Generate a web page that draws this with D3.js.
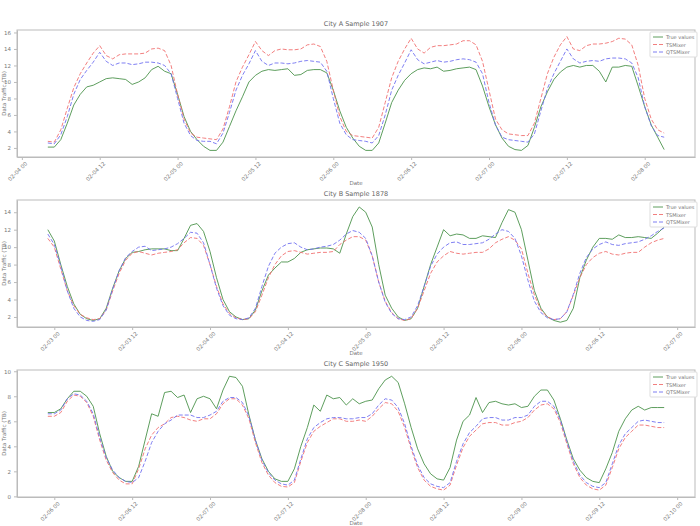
<!DOCTYPE html>
<html>
<head>
<meta charset="utf-8">
<script src="https://cdn.jsdelivr.net/npm/d3@7"></script>
<style>
  body { margin: 0; background: #fff; }
  text { font-family: "DejaVu Sans", sans-serif; }
</style>
</head>
<body>
<svg id="chart" width="700" height="526"></svg>
<script>
// ---- data (hourly, 96 points per panel) ----
const titles = ["City A Sample 1907", "City B Sample 1878", "City C Sample 1950"];
const startTimes = ["2024-02-04T04:00", "2024-02-02T23:00", "2024-02-05T23:00"];
const tickStarts = ["2024-02-04T00:00", "2024-02-03T00:00", "2024-02-06T00:00"];
const yDomains = [[0.9, 16.3], [0.85, 15.4], [-0.05, 10.1]];
const yTicks = [[2, 4, 6, 8, 10, 12, 14, 16], [2, 4, 6, 8, 10, 12, 14], [0, 2, 4, 6, 8, 10]];

const trueA = [2.1,2.1,3.0,5.0,7.2,8.5,9.4,9.6,10.0,10.4,10.5,10.4,10.3,9.7,10.0,10.5,11.5,11.9,11.3,11.0,
  8.5,5.8,4.0,3.0,2.2,1.7,1.7,2.7,4.6,6.5,8.2,10.0,10.8,11.3,11.5,11.4,11.5,11.6,10.8,10.9,11.4,11.5,11.5,11.1,
  9.0,6.5,4.5,3.2,2.2,1.7,1.7,2.6,5.0,7.5,9.0,10.2,11.0,11.5,11.7,11.6,11.8,11.3,11.4,11.6,11.7,11.8,11.5,9.5,
  7.0,4.8,3.2,2.2,1.8,1.7,2.3,4.5,7.0,8.8,10.3,11.2,11.8,12.0,11.8,12.0,12.0,11.3,10.0,11.8,11.8,12.0,11.9,9.5,
  7.0,4.8,3.3,1.8];
const tsA = [2.8,2.7,4.2,6.8,9.3,11.0,12.3,13.5,14.4,13.2,12.8,13.3,13.4,13.4,13.4,13.5,14.0,14.1,13.8,12.0,
  8.5,5.5,3.8,3.3,3.2,3.1,3.0,4.3,7.0,10.0,11.8,13.3,14.9,13.8,13.2,13.8,14.0,13.9,13.9,14.0,14.5,14.6,14.3,12.5,
  9.0,5.8,4.0,3.5,3.4,3.3,3.2,4.5,7.5,10.5,12.5,14.0,15.3,14.0,13.5,14.2,14.4,14.4,14.5,14.6,15.0,15.0,14.5,12.5,
  9.0,5.5,4.2,3.7,3.6,3.5,3.5,5.0,8.0,11.0,13.0,14.5,15.5,14.0,13.8,14.4,14.6,14.6,14.7,14.9,15.3,15.2,14.5,12.0,
  8.0,5.5,4.2,3.8];
const qtA = [2.6,2.5,3.6,5.8,8.5,10.3,11.4,12.4,13.6,12.5,12.0,12.3,12.3,12.1,12.2,12.4,12.4,12.3,12.0,11.0,
  8.0,5.0,3.5,2.9,2.8,2.8,2.5,3.8,6.3,9.0,10.8,12.2,13.8,12.5,12.0,12.3,12.3,12.2,12.3,12.5,12.6,12.5,12.4,11.3,
  8.0,5.0,3.6,3.0,2.9,2.8,2.6,3.5,6.0,9.0,10.8,12.3,13.9,12.7,12.2,12.4,12.6,12.4,12.5,12.7,12.8,12.7,12.4,11.0,
  7.5,4.8,3.3,3.0,2.9,2.8,2.7,3.7,6.5,9.2,11.0,12.5,14.0,12.8,12.3,12.5,12.6,12.5,12.8,12.9,12.9,12.8,12.3,10.5,
  7.0,4.7,3.5,3.3];

const trueB = [12.0,
  10.7,8.0,5.5,3.5,2.3,1.8,1.6,1.8,3.0,5.3,7.3,8.7,9.4,9.5,9.7,9.8,9.8,9.8,9.6,9.6,11.0,12.5,12.7,11.8,
  9.5,6.5,4.0,2.6,2.0,1.7,1.8,2.8,5.0,6.8,7.6,8.3,8.3,8.7,9.4,9.7,9.8,9.9,9.9,9.8,9.3,11.5,13.5,14.6,
  14.0,12.3,8.0,4.5,3.0,2.0,1.6,1.8,3.0,5.5,8.0,10.0,12.0,11.3,11.5,11.4,11.0,11.0,11.3,11.2,11.1,12.8,14.3,14.0,
  12.0,8.5,5.0,3.0,2.0,1.6,1.4,1.6,3.0,6.5,8.5,10.0,11.0,11.0,10.9,11.4,11.1,11.1,11.2,11.1,11.0,11.6,12.3];
const tsB = [11.0,
  10.0,7.5,5.0,3.3,2.3,1.9,1.7,1.8,2.8,5.0,7.0,8.5,9.3,9.5,9.3,9.1,9.3,9.4,9.5,9.7,10.5,11.1,11.0,10.2,
  8.0,5.5,3.5,2.4,1.9,1.7,1.8,2.6,4.5,6.5,8.0,9.0,9.5,9.6,9.4,9.2,9.3,9.4,9.4,9.5,10.3,10.8,11.2,11.2,
  10.8,9.0,6.0,3.8,2.5,1.8,1.6,1.8,3.0,5.0,7.0,8.3,9.0,9.5,9.3,9.2,9.3,9.4,9.4,9.8,10.5,10.9,11.2,10.8,
  9.8,7.0,4.5,2.8,2.0,1.7,1.8,2.6,4.5,6.5,8.0,8.8,9.3,9.5,9.2,9.1,9.3,9.4,9.4,10.0,10.5,10.8,11.0];
const qtB = [11.5,
  10.3,7.8,5.0,3.0,2.0,1.6,1.5,1.7,2.8,5.2,7.3,8.8,9.5,10.0,10.1,9.6,9.7,9.8,10.0,10.4,11.0,11.7,11.6,10.5,
  8.0,5.3,3.3,2.2,1.8,1.7,1.9,3.0,5.5,7.8,9.3,10.0,10.4,10.5,10.0,9.7,9.8,10.0,10.1,10.3,10.8,11.5,11.9,11.7,
  11.0,9.0,6.0,3.7,2.4,1.8,1.7,2.0,3.3,5.5,7.8,9.2,10.0,10.5,10.6,10.3,10.3,10.4,10.5,10.9,11.5,12.0,11.8,11.0,
  9.0,6.2,3.8,2.5,1.9,1.7,1.8,2.6,4.6,7.0,8.8,9.8,10.3,10.6,10.3,10.2,10.4,10.5,10.6,10.9,11.3,11.8,12.2];

const trueC = [6.7,
  6.7,7.0,7.8,8.4,8.4,8.0,7.2,5.0,3.2,2.0,1.5,1.2,1.2,2.4,4.5,6.6,6.4,8.3,8.4,7.9,8.1,6.7,7.8,8.0,
  7.8,7.0,8.5,9.6,9.5,8.8,6.5,4.5,3.0,2.0,1.4,1.2,1.2,2.2,4.0,5.5,7.3,6.8,8.1,7.8,7.9,7.3,7.8,7.4,
  7.6,7.7,8.6,9.3,9.6,9.1,7.4,5.5,3.8,2.6,1.8,1.4,1.3,2.3,4.5,6.0,6.5,7.9,6.7,7.5,7.6,7.4,7.3,7.4,
  7.1,7.2,8.0,8.5,8.5,7.7,6.2,4.5,3.0,2.1,1.5,1.2,1.1,2.2,3.5,5.2,6.2,6.9,7.2,6.9,7.1,7.1,7.1];
const tsC = [6.4,
  6.4,6.7,7.6,8.1,8.0,7.5,6.4,4.5,2.9,1.9,1.3,1.0,1.0,2.2,3.8,4.9,5.5,5.8,6.3,6.4,6.3,6.1,6.0,6.2,
  6.2,6.6,7.4,7.8,7.8,7.3,6.2,4.3,2.7,1.7,1.1,0.8,0.75,1.1,2.8,4.3,5.2,5.6,5.9,6.2,6.2,6.0,6.0,6.1,
  6.0,6.4,7.0,7.5,7.4,6.8,5.5,3.8,2.3,1.3,0.8,0.6,0.5,0.9,2.5,3.9,4.8,5.3,5.8,5.9,5.9,5.7,5.7,5.9,
  6.0,6.3,6.9,7.3,7.4,7.0,5.9,4.2,2.6,1.5,0.9,0.6,0.5,0.9,2.3,3.8,4.7,5.2,5.7,5.7,5.6,5.5,5.5];
const qtC = [6.6,
  6.6,6.9,7.8,8.2,8.1,7.6,6.6,4.7,3.1,2.1,1.5,1.2,1.1,1.5,2.8,4.3,5.2,5.8,6.1,6.5,6.5,6.5,6.3,6.3,
  6.5,6.8,7.6,7.9,7.9,7.5,6.4,4.5,2.9,1.9,1.3,1.0,0.9,1.3,3.0,4.6,5.5,5.9,6.2,6.3,6.3,6.2,6.2,6.3,
  6.3,6.6,7.3,7.8,7.7,7.1,5.8,4.0,2.5,1.5,1.0,0.8,0.7,1.1,2.8,4.2,5.1,5.6,6.2,6.3,6.3,6.1,6.1,6.3,
  6.3,6.5,7.2,7.6,7.6,7.2,6.1,4.4,2.8,1.7,1.1,0.8,0.7,1.1,2.6,4.1,5.0,5.5,6.0,6.1,6.0,5.9,5.9];

const panelSeries = [[trueA, tsA, qtA], [trueB, tsB, qtB], [trueC, tsC, qtC]];
const seriesNames = ["True values", "TSMixer", "QTSMixer"];
const seriesColors = ["#4c934c", "#f07070", "#7070f0"];
const seriesDash = [null, "4,2", "4,2"];

// ---- drawing ----
const svg = d3.select("#chart");
const margin = { left: 17, right: 5 };
const panelTops = [30, 200, 370];
const panelH = 127;
const width = 700;
const fmt = d3.timeFormat("%m-%d %H");
const parse = d3.timeParse("%Y-%m-%dT%H:%M");
const hour = 3600 * 1000;

panelSeries.forEach((series, p) => {
  const t0 = parse(startTimes[p]);
  const n = series[0].length;
  const times = d3.range(n).map((i) => new Date(+t0 + i * hour));
  const pad = (n - 1) * 0.05 * hour;
  const x = d3.scaleTime()
    .domain([new Date(+times[0] - pad), new Date(+times[n - 1] + pad)])
    .range([margin.left, width - margin.right]);
  const top = panelTops[p];
  const y = d3.scaleLinear().domain(yDomains[p]).range([top + panelH, top]);

  const g = svg.append("g");

  const tStart = parse(tickStarts[p]);
  const xTicks = d3.range(9).map((k) => new Date(+tStart + k * 12 * hour))
    .filter((d) => d <= x.domain()[1]);

  const xAxis = g.append("g")
    .attr("transform", `translate(0,${top + panelH})`)
    .call(d3.axisBottom(x).tickValues(xTicks).tickFormat(fmt).tickSize(3).tickSizeOuter(0));
  xAxis.selectAll("text")
    .attr("transform", "rotate(-45)")
    .attr("text-anchor", "end")
    .attr("dx", "-0.2em").attr("dy", "0.5em")
    .style("font-size", "5.5px").style("fill", "#777");

  const yAxis = g.append("g")
    .attr("transform", `translate(${margin.left},0)`)
    .call(d3.axisLeft(y).tickValues(yTicks[p]).tickSize(3).tickSizeOuter(0));
  yAxis.selectAll("text").style("font-size", "5.5px").style("fill", "#777");

  g.selectAll(".domain, .tick line").attr("stroke", "#bbb");

  g.append("rect")
    .attr("x", margin.left).attr("y", top)
    .attr("width", width - margin.right - margin.left).attr("height", panelH)
    .attr("fill", "none").attr("stroke", "#bbb").attr("stroke-width", 1);

  const line = d3.line().x((d, i) => x(times[i])).y((d) => y(d));
  series.forEach((vals, s) => {
    g.append("path")
      .datum(vals)
      .attr("d", line)
      .attr("fill", "none")
      .attr("stroke", seriesColors[s])
      .attr("stroke-width", 0.9)
      .attr("stroke-dasharray", seriesDash[s]);
  });

  g.append("text")
    .attr("x", (margin.left + width - margin.right) / 2).attr("y", top - 4)
    .attr("text-anchor", "middle")
    .style("font-size", "6.5px").style("fill", "#666")
    .text(titles[p]);

  g.append("text")
    .attr("x", (margin.left + width - margin.right) / 2).attr("y", top + panelH + 28)
    .attr("text-anchor", "middle")
    .style("font-size", "5.5px").style("fill", "#777")
    .text("Date");

  g.append("text")
    .attr("transform", `translate(6,${top + panelH / 2}) rotate(-90)`)
    .attr("text-anchor", "middle")
    .style("font-size", "5.5px").style("fill", "#777")
    .text("Data Traffic (TB)");

  // legend
  const lg = g.append("g").attr("transform", `translate(650,${top + 2})`);
  lg.append("rect").attr("width", 47).attr("height", 25)
    .attr("fill", "#fff").attr("stroke", "#ddd").attr("rx", 1);
  seriesNames.forEach((name, s) => {
    const yy = 5 + s * 7.5;
    lg.append("line").attr("x1", 3).attr("x2", 13).attr("y1", yy).attr("y2", yy)
      .attr("stroke", seriesColors[s]).attr("stroke-width", 0.9)
      .attr("stroke-dasharray", seriesDash[s]);
    lg.append("text").attr("x", 16).attr("y", yy + 2)
      .style("font-size", "5px").style("fill", "#777").text(name);
  });
});
</script>
</body>
</html>
